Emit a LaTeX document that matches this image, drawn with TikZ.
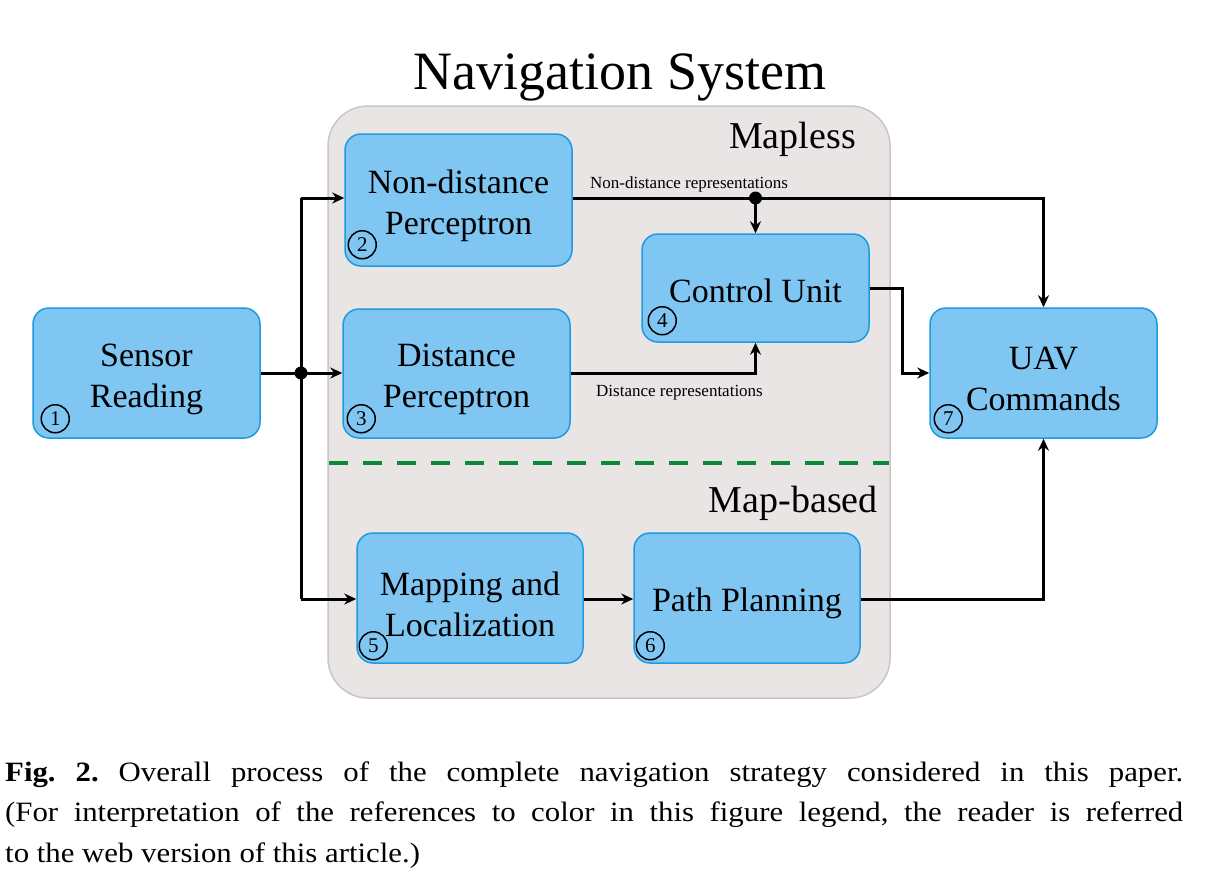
\documentclass[tikz,border=0pt]{standalone}
\usepackage{fontspec}
\setmainfont{Liberation Serif}
\newfontfamily\capfont[FakeStretch=1.1]{Liberation Serif}
\usetikzlibrary{arrows.meta,calc}
\definecolor{boxfill}{RGB}{128,198,242}
\definecolor{boxline}{RGB}{30,155,224}
\definecolor{panelfill}{RGB}{233,229,228}
\definecolor{panelline}{RGB}{200,198,198}
\definecolor{dashgreen}{RGB}{10,135,55}
\begin{document}
\frenchspacing
\begin{tikzpicture}[x=1pt,y=-1pt,
  blockbox/.style={draw=boxline, fill=boxfill, line width=1.5pt, rounded corners=16pt,
    minimum width=227pt, minimum height=130pt, inner sep=0pt},
  blocktext/.style={align=center, inner sep=0pt, font=\fontsize{34}{41}\selectfont, yshift=-6pt},
  numcirc/.style={circle, draw=black, line width=1.5pt, minimum size=28pt, inner sep=0pt,
    font=\fontsize{21}{21}\selectfont},
  conn/.style={line width=3pt, line join=miter},
  arr/.style={conn, -{Stealth[length=12pt,width=11pt]}},
  smalllabel/.style={font=\fontsize{17}{17}\selectfont, inner sep=0pt},
  grouplabel/.style={font=\fontsize{38}{38}\selectfont, inner sep=0pt},
  captext/.style={font=\capfont\fontsize{28}{28}\selectfont, inner sep=0pt, anchor=base west}
]
\useasboundingbox (0,0) rectangle (1220,884);
\fill[white] (0,0) rectangle (1220,884);

% panel
\node (panel) [draw=panelline, fill=panelfill, rounded corners=40pt, line width=1.5pt,
  minimum width=562pt, minimum height=592pt, inner sep=0pt] at (609,402) {};

% title and group labels
\node (title) [anchor=base, inner sep=0pt, font=\fontsize{54}{54}\selectfont] at (620,89) {Navigation System};
\node (mapless) [grouplabel, anchor=base east] at (856,148) {Mapless};
\node (mapbased) [grouplabel, anchor=base east] at (878,512) {Map-based};

% green divider
\coordinate (dl) at (329,463);
\coordinate (dr) at (889,463);
\draw[dashgreen, line width=4.5pt, dash pattern=on 19pt off 15pt] (dl) -- (dr);

% blocks
\node (s1) [blockbox, label={[blocktext]center:Sensor\\Reading}] at (146.5,373) {};
\node (s2) [blockbox, minimum height=132pt, label={[blocktext]center:Non-distance\\Perceptron}] at (458.5,200) {};
\node (s3) [blockbox, minimum height=129pt, label={[blocktext]center:Distance\\Perceptron}] at (456.5,373.5) {};
\node (s4) [blockbox, minimum height=108pt, label={[blocktext, yshift=3pt]center:Control Unit}] at (755.5,288) {};
\node (s7) [blockbox, label={[blocktext]center:UAV\\Commands}] at (1043.5,373) {};
\node (s5) [blockbox, minimum width=226pt, label={[blocktext]center:Mapping and\\Localization}] at (470,598) {};
\node (s6) [blockbox, minimum width=226pt, label={[blocktext, yshift=1pt]center:Path Planning}] at (747,598) {};

% numbers
\node (c1) [numcirc] at ($(s1.south west)+(23,-20)$) {1};
\node (c2) [numcirc] at ($(s2.south west)+(18,-22)$) {2};
\node (c3) [numcirc] at ($(s3.south west)+(19,-20)$) {3};
\node (c4) [numcirc] at ($(s4.south west)+(21,-22)$) {4};
\node (c7) [numcirc] at ($(s7.south west)+(19,-20)$) {7};
\node (c5) [numcirc] at ($(s5.south west)+(17,-18)$) {5};
\node (c6) [numcirc] at ($(s6.south west)+(17,-18)$) {6};

% junctions
\coordinate (j1) at (301,373);
\coordinate (jt) at (301,198);
\coordinate (jb) at (301,599);
\coordinate (j2) at (755.5,198);

% connectors
\draw[conn] (s1.east) -- (j1);
\draw[arr] (j1) -- (s3.west |- j1);
\draw[conn] (jt) -- (jb);
\draw[arr] (jt) -- (s2.west |- jt);
\draw[arr] (jb) -- (s5.west |- jb);
\draw[arr] (s2.east |- j2) -| (s7.north);
\draw[arr] (j2) -- (s4.north);
\draw[arr] (s3.east) -| (s4.south);
\draw[arr] (s4.east) -- ++(33,0) |- (s7.west);
\draw[arr] (s6.east |- jb) -| (s7.south);
\draw[arr] (s5.east |- jb) -- (s6.west |- jb);
\fill (j1) circle (6.5pt);
\fill (j2) circle (6.5pt);

% connector labels
\node (lnd) [smalllabel, anchor=base west] at (590,188) {Non-distance representations};
\node (ld) [smalllabel, anchor=base west] at (596,396) {Distance representations};

% caption
\node (cap1) [captext] at (5,781) {\makebox[1178pt][s]{\textbf{Fig. 2.} Overall process of the complete navigation strategy considered in this paper.}};
\node (cap2) [captext] at (5,821) {\makebox[1178pt][s]{(For interpretation of the references to color in this figure legend, the reader is referred}};
\node (cap3) [captext] at (5,862) {to the web version of this article.)};
\end{tikzpicture}
\end{document}
